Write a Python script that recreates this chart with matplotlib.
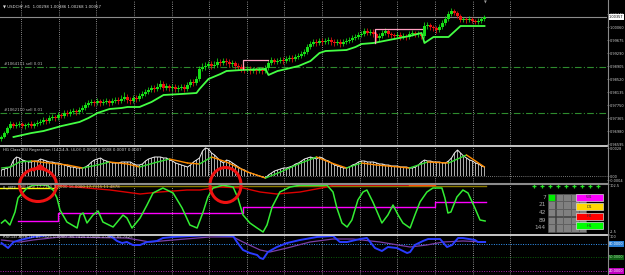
import numpy as np
import matplotlib
matplotlib.use('Agg')
import matplotlib.pyplot as plt
import matplotlib.transforms as mtrans
from matplotlib.patches import Ellipse, Rectangle
from matplotlib.lines import Line2D

# ---------------- data ----------------
# main window, USDCHF H1: close of each bar (open = previous close)
first_open = 0.96746
closes = [
    0.96805, 0.96923, 0.97071, 0.97190, 0.97130, 0.97160, 0.97190, 0.97130, 0.97160, 0.97190,
    0.97130, 0.97190, 0.97219, 0.97249, 0.97308, 0.97278, 0.97367, 0.97397, 0.97367, 0.97456,
    0.97426, 0.97515, 0.97486, 0.97545, 0.97574, 0.97545, 0.97604, 0.97663, 0.97752, 0.97811,
    0.97841, 0.97811, 0.97870, 0.97811, 0.97841, 0.97870, 0.97811, 0.97870, 0.97900, 0.97870,
    0.97930, 0.97989, 0.97900, 0.97870, 0.97959, 0.97930, 0.98018, 0.98078, 0.98137, 0.98196,
    0.98255, 0.98226, 0.98285, 0.98374, 0.98255, 0.98314, 0.98255, 0.98285, 0.98226, 0.98255,
    0.98285, 0.98226, 0.98344, 0.98433, 0.98403, 0.98522, 0.98818, 0.98877, 0.98906, 0.98966,
    0.98906, 0.98936, 0.99025, 0.98995, 0.99054, 0.99025, 0.98966, 0.98995, 0.98906, 0.98877,
    0.98818, 0.98788, 0.98818, 0.98758, 0.98788, 0.98758, 0.98788, 0.98758, 0.98847, 0.98995,
    0.99084, 0.99025, 0.99054, 0.99084, 0.99054, 0.99113, 0.99143, 0.99113, 0.99173, 0.99202,
    0.99262, 0.99321, 0.99469, 0.99558, 0.99617, 0.99587, 0.99646, 0.99617, 0.99646, 0.99676,
    0.99617, 0.99587, 0.99617, 0.99558, 0.99617, 0.99646, 0.99676, 0.99735, 0.99765, 0.99824,
    0.99854, 0.99942, 0.99883, 0.99913, 0.99854, 0.99735, 0.99794, 0.99883, 0.99942, 0.99854,
    0.99824, 0.99794, 0.99824, 0.99765, 0.99794, 0.99765, 0.99854, 0.99883, 0.99854, 0.99854,
    0.99794, 1.00090, 1.00120, 1.00061, 1.00031, 0.99972, 1.00061, 1.00179, 1.00298, 1.00446,
    1.00534, 1.00475, 1.00386, 1.00268, 1.00298, 1.00268, 1.00298, 1.00238, 1.00209, 1.00238,
    1.00298, 1.00357,
]
highs = [
    0.96864, 0.96982, 0.97130, 0.97278, 0.97249, 0.97249, 0.97278, 0.97249, 0.97219, 0.97249,
    0.97278, 0.97249, 0.97308, 0.97338, 0.97397, 0.97367, 0.97456, 0.97486, 0.97456, 0.97545,
    0.97515, 0.97604, 0.97604, 0.97634, 0.97663, 0.97634, 0.97693, 0.97752, 0.97841, 0.97900,
    0.97930, 0.97900, 0.97959, 0.97930, 0.97930, 0.97959, 0.97930, 0.97959, 0.97989, 0.97989,
    0.98048, 0.98137, 0.98078, 0.97989, 0.98048, 0.98048, 0.98107, 0.98166, 0.98226, 0.98285,
    0.98344, 0.98344, 0.98403, 0.98492, 0.98462, 0.98403, 0.98374, 0.98374, 0.98374, 0.98344,
    0.98374, 0.98374, 0.98433, 0.98522, 0.98522, 0.98610, 0.98906, 0.98995, 0.99025, 0.99054,
    0.99054, 0.99054, 0.99143, 0.99114, 0.99143, 0.99143, 0.99114, 0.99084, 0.99054, 0.98995,
    0.98966, 0.98906, 0.98906, 0.98906, 0.98877, 0.98877, 0.98877, 0.98877, 0.98936, 0.99084,
    0.99173, 0.99143, 0.99143, 0.99173, 0.99173, 0.99202, 0.99232, 0.99232, 0.99262, 0.99291,
    0.99350, 0.99410, 0.99558, 0.99646, 0.99706, 0.99706, 0.99735, 0.99735, 0.99735, 0.99765,
    0.99765, 0.99706, 0.99706, 0.99706, 0.99706, 0.99735, 0.99765, 0.99824, 0.99854, 0.99913,
    0.99942, 1.00031, 1.00031, 1.00002, 1.00002, 0.99913, 0.99883, 0.99972, 1.00031, 1.00002,
    0.99913, 0.99883, 0.99913, 0.99913, 0.99883, 0.99854, 0.99942, 0.99972, 0.99942, 0.99942,
    0.99913, 1.00209, 1.00209, 1.00179, 1.00120, 1.00090, 1.00150, 1.00268, 1.00386, 1.00534,
    1.00623, 1.00594, 1.00534, 1.00446, 1.00357, 1.00357, 1.00386, 1.00357, 1.00298, 1.00327,
    1.00357, 1.00416,
]
lows = [
    0.96686, 0.96775, 0.96894, 0.97042, 0.97071, 0.97071, 0.97101, 0.97071, 0.97042, 0.97101,
    0.97071, 0.97071, 0.97130, 0.97160, 0.97190, 0.97190, 0.97219, 0.97308, 0.97278, 0.97308,
    0.97367, 0.97367, 0.97426, 0.97426, 0.97486, 0.97456, 0.97486, 0.97545, 0.97604, 0.97693,
    0.97752, 0.97722, 0.97752, 0.97722, 0.97752, 0.97782, 0.97722, 0.97752, 0.97811, 0.97782,
    0.97811, 0.97870, 0.97811, 0.97782, 0.97811, 0.97841, 0.97870, 0.97959, 0.98018, 0.98078,
    0.98137, 0.98137, 0.98166, 0.98226, 0.98166, 0.98196, 0.98166, 0.98166, 0.98137, 0.98137,
    0.98196, 0.98137, 0.98166, 0.98285, 0.98314, 0.98344, 0.98462, 0.98758, 0.98788, 0.98847,
    0.98818, 0.98847, 0.98877, 0.98906, 0.98936, 0.98936, 0.98877, 0.98877, 0.98818, 0.98788,
    0.98729, 0.98699, 0.98729, 0.98670, 0.98699, 0.98670, 0.98699, 0.98670, 0.98699, 0.98788,
    0.98936, 0.98966, 0.98966, 0.98995, 0.98966, 0.98995, 0.99054, 0.99025, 0.99054, 0.99114,
    0.99143, 0.99202, 0.99262, 0.99410, 0.99498, 0.99498, 0.99528, 0.99528, 0.99558, 0.99558,
    0.99528, 0.99498, 0.99528, 0.99469, 0.99498, 0.99558, 0.99587, 0.99617, 0.99676, 0.99706,
    0.99765, 0.99794, 0.99824, 0.99824, 0.99765, 0.99617, 0.99646, 0.99735, 0.99824, 0.99765,
    0.99735, 0.99706, 0.99735, 0.99676, 0.99706, 0.99676, 0.99706, 0.99794, 0.99765, 0.99765,
    0.99706, 0.99735, 1.00002, 0.99972, 0.99942, 0.99883, 0.99913, 1.00002, 1.00120, 1.00238,
    1.00386, 1.00416, 1.00327, 1.00209, 1.00209, 1.00179, 1.00209, 1.00179, 1.00150, 1.00150,
    1.00179, 1.00238,
]

# green trailing line under price
trail_x = [4, 10, 14, 20, 26, 29, 32, 36, 40, 42, 46, 50, 54, 60, 65, 66, 69, 73, 75, 80,
           88, 89, 92, 95, 99, 103, 106, 108, 115, 118, 120, 124, 136, 140, 141, 144, 149, 153, 161]
trail_y = [0.96805, 0.96923, 0.96982, 0.97130, 0.97249, 0.97367, 0.97515, 0.97634, 0.97663, 0.97693,
           0.97693, 0.97841, 0.98048, 0.98078, 0.98107, 0.98226, 0.98522, 0.98670, 0.98758, 0.98788,
           0.98818, 0.98640, 0.98758, 0.98818, 0.98906, 0.99054, 0.99291, 0.99350, 0.99380, 0.99469,
           0.99558, 0.99587, 0.99794, 0.99883, 0.99587, 0.99765, 0.99765, 1.00090, 1.00090]

# pink range boxes
box1_x = [80.5, 80.5, 88.8]
box1_y = [0.98818, 0.99084, 0.99084]
box2_x = [124.5, 124.5, 140.2]
box2_y = [0.99587, 1.00002, 1.00002]

bid = 1.00357
order_levels = [0.98877, 0.97515]
order_labels = ['#1064111 sell 0.01', '#1062110 sell 0.01']
main_ticks = [0.96595, 0.96980, 0.97365, 0.97750, 0.98135, 0.98520,
              0.98905, 0.99290, 0.99675, 1.00060, 1.00445]

# window 2: HG Class RSI Regression histogram + signal
hist = [
    0.0006, 0.0007, 0.0008, 0.0009, 0.0016, 0.0019, 0.0018, 0.0016, 0.0015, 0.0014,
    0.0014, 0.0015, 0.0015, 0.0017, 0.0016, 0.0015, 0.0014, 0.0014, 0.0013, 0.0013,
    0.0012, 0.0011, 0.0010, 0.0009, 0.0009, 0.0008, 0.0008, 0.0008, 0.0009, 0.0011,
    0.0014, 0.0016, 0.0017, 0.0018, 0.0016, 0.0015, 0.0014, 0.0013, 0.0013, 0.0013,
    0.0014, 0.0014, 0.0014, 0.0014, 0.0012, 0.0011, 0.0011, 0.0012, 0.0015, 0.0017,
    0.0018, 0.0019, 0.0019, 0.0019, 0.0018, 0.0018, 0.0016, 0.0015, 0.0013, 0.0012,
    0.0011, 0.0010, 0.0009, 0.0011, 0.0014, 0.0016, 0.0018, 0.0025, 0.0028, 0.0027,
    0.0023, 0.0021, 0.0018, 0.0015, 0.0013, 0.0016, 0.0015, 0.0013, 0.0011, 0.0009,
    0.0007, 0.0006, 0.0004, 0.0003, 0.0002, 0.0001, 0.0000, -0.0001, -0.0002, 0.0001,
    0.0003, 0.0005, 0.0006, 0.0007, 0.0008, 0.0008, 0.0009, 0.0010, 0.0012, 0.0013,
    0.0015, 0.0017, 0.0018, 0.0019, 0.0018, 0.0017, 0.0019, 0.0018, 0.0016, 0.0015,
    0.0013, 0.0011, 0.0010, 0.0009, 0.0008, 0.0008, 0.0009, 0.0011, 0.0012, 0.0014,
    0.0015, 0.0015, 0.0014, 0.0014, 0.0014, 0.0013, 0.0012, 0.0012, 0.0011, 0.0011,
    0.0010, 0.0010, 0.0010, 0.0009, 0.0009, 0.0009, 0.0008, 0.0008, 0.0009, 0.0011,
    0.0014, 0.0016, 0.0015, 0.0015, 0.0014, 0.0014, 0.0014, 0.0013, 0.0013, 0.0015,
    0.0018, 0.0023, 0.0026, 0.0023, 0.0020, 0.0018, 0.0016, 0.0015, 0.0013, 0.0012,
    0.0010, 0.0009,
]
sig_x = [0, 3, 6, 10, 16, 22, 27, 32, 36, 42, 46, 52, 56, 62, 66, 70, 75, 82, 88, 93,
         99, 105, 110, 115, 120, 125, 136, 142, 149, 155, 161]
sig_y = [0.0008, 0.0009, 0.0014, 0.0015, 0.0013, 0.0011, 0.0008, 0.0011, 0.0014, 0.0012,
         0.0009, 0.0014, 0.0017, 0.0013, 0.0012, 0.0019, 0.0014, 0.0004, -0.0002, 0.0004,
         0.0012, 0.0019, 0.0013, 0.0008, 0.0013, 0.0011, 0.0008, 0.0014, 0.0013, 0.0021, 0.0009]

# window 3: LL_MTF oscillator
osc_x = [0, 1.2, 2.8, 4.5, 5.5, 8.5, 10.5, 15.2, 17.2, 18.5, 19.5, 21.8, 25.2, 26.2, 27.2,
         28.5, 30.5, 32.2, 33.8, 37.2, 40.5, 41.8, 43.5, 46.2, 48.5, 50.5, 53.8, 57.2, 60.2,
         62.8, 65.2, 67.2, 68.8, 70.5, 73.8, 77.2, 78.8, 80.5, 82.8, 85.2, 87.2, 88.5, 90.2,
         92.8, 96.2, 99.5, 108.5, 110.5, 111.8, 113.5, 115.2, 116.8, 118.8, 120.5, 121.8,
         123.8, 126.8, 128.8, 130.5, 132.2, 133.8, 136.2, 137.8, 139.5, 141.8, 143.8, 146.8,
         147.8, 148.8, 149.8, 151.8, 153.8, 155.5, 157.8, 159.5, 161.2]
osc_y = [20.6, 26.9, 16.4, 43.7, 73.1, 94.1, 100, 100, 89.9, 73.1, 47.9, 22.7, 10.1, 37.4, 41.6,
         20.6, 37.4, 45.8, 22.7, 12.2, 37.4, 31.1, 10.1, 31.1, 58.4, 83.6, 94.1, 83.6, 52.1,
         16.4, 10.1, 43.7, 75.2, 94.1, 100, 96.2, 73.1, 37.4, 20.6, 10.1, 1.7, 16.4, 54.2,
         85.7, 96.2, 100, 100, 85.7, 52.1, 20.6, 12.2, 26.9, 68.9, 85.7, 89.9,
         64.7, 20.6, 37.4, 58.4, 37.4, 20.6, 10.1, 37.4, 64.7, 85.7, 94.1, 94.1,
         73.1, 41.6, 43.7, 75.2, 89.9, 83.6, 52.1, 26.9, 24.8]
mag_x = [5.5, 18.8, 80.5, 144.5, 161.5]
mag_y = [24.8, 41.6, 54.2, 64.7, 64.7]
red_x = [17.8, 36.2, 46.2, 52.8, 61.8, 66.2, 72.8, 80.5, 86.2, 91.8, 99.5, 108.5, 110.5, 136]
red_y = [100, 89.9, 81.5, 85.7, 89.9, 89.9, 96.2, 94.1, 85.7, 81.5, 85.7, 96.2, 100, 100]
periods = ['7', '21', '42', '89', '144']
tf_labels = ['W1', 'D1', 'H4', 'H1']
tf_colors = ['#ff00ff', '#ffd700', '#ff0000', '#00ff00']

# window 4: RSI(14) and its signal
rsi_x = [0, 2.2, 4, 6.2, 10.5, 16, 35.2, 36.8, 38.5, 40.2, 41.8, 43.8, 46.2, 48.5, 51.8, 53.8,
         57.2, 69.5, 77.2, 78.5, 80.5, 82.8, 85.2, 86.2, 87.2, 88.8, 91.8, 95.2, 99.5, 105.2,
         110.5, 112.8, 115.2, 119.5, 121.8, 124.5, 126.8, 128.8, 131.8, 135.2, 136.2, 137.8,
         140.5, 142.2, 146.2, 148.5, 150.2, 152.2, 153.8, 157.8, 158.8, 161.2]
rsi_y = [82.2, 71.1, 84.4, 88.9, 95.6, 100, 100, 95.6, 86.7, 82.2, 84.4, 77.8, 77.8, 84.4, 86.7, 93.3,
         95.6, 100, 97.8, 84.4, 66.7, 60.0, 55.6, 48.9, 46.7, 62.2, 73.3, 82.2, 88.9, 95.6,
         97.8, 84.4, 84.4, 91.1, 93.3, 71.1, 64.4, 73.3, 71.1, 60.0, 62.2, 77.8,
         86.7, 91.1, 91.1, 73.3, 77.8, 93.3, 93.3, 88.9, 84.4, 84.4]
rsig_x = [0, 6.2, 10.5, 19.5, 41.8, 49.5, 57.2, 69.5, 77.2, 80.5, 86.2, 89.5, 95.2, 102.8,
          110.5, 117.2, 126.2, 136.2, 141.8, 147.2, 153.8, 161.2]
rsig_y = [88.9, 84.4, 88.9, 95.6, 93.3, 84.4, 88.9, 95.6, 95.6, 84.4, 66.7, 62.2, 71.1, 84.4,
          91.1, 91.1, 84.4, 73.3, 77.8, 84.4, 86.7, 84.4]
rsi_levels = [80, 50, 20]

# ---------------- figure ----------------
W, H = 625, 275
fig = plt.figure(figsize=(W / 100, H / 100), dpi=100, facecolor='black')


def fx(px):
    return px / W


def fy(py):
    return 1 - py / H


AX_R = 607
XLIM = (-0.5, (AX_R - 1.5) / 3)
ax1 = fig.add_axes([0, fy(145), fx(AX_R), 145 / H])
ax2 = fig.add_axes([0, fy(183), fx(AX_R), 37 / H])
ax3 = fig.add_axes([0, fy(234), fx(AX_R), 50 / H])
ax4 = fig.add_axes([0, 0, fx(AX_R), 40 / H])

grid_idx = (21.3 + 37.6 * np.arange(14) - 1.5) / 3
for ax in (ax1, ax2, ax3, ax4):
    ax.set_facecolor('black')
    ax.set_xlim(*XLIM)
    ax.set_xticks([])
    for s in ax.spines.values():
        s.set_visible(False)
    for g in grid_idx:
        ax.axvline(g, color='#b8b8b8', lw=0.6, ls=(0, (1, 1.6)), zorder=0)
    ax.yaxis.tick_right()
    ax.tick_params(axis='y', color='#909090', labelcolor='#d0d0d0', labelsize=2.5,
                   length=1.6, width=0.5, pad=0.6)

lab_font = dict(fontsize=2.8, va='center')
box_font = 2.5

# ---- main window
x = np.arange(len(closes))
opens = np.array([first_open] + closes[:-1])
cl = np.array(closes)
up = cl >= opens
candle_col = np.where(up, '#16e016', '#ee1111')
ax1.axhline(bid, color='#8c8c8c', lw=0.8, zorder=1)
for lvl in order_levels:
    ax1.axhline(lvl, color='#2e8b2e', lw=0.8, ls=(0, (6, 2, 1, 2)), zorder=1)
ax1.vlines(x, lows, highs, colors=candle_col, lw=0.55, zorder=3)
ax1.bar(x, np.maximum(np.abs(cl - opens), 0.0004), bottom=np.minimum(cl, opens), width=0.75,
        color=candle_col, zorder=3)
ax1.plot(trail_x, trail_y, color='#44ff44', lw=1.3, zorder=4)
ax1.plot(box1_x, box1_y, color='#ff9fbf', lw=0.9, zorder=4)
ax1.plot(box2_x, box2_y, color='#ff9fbf', lw=0.9, zorder=4)
ax1.set_ylim(0.96568, 1.00860)
ax1.set_yticks(main_ticks)
ax1.set_yticklabels([f'{v:.5f}' for v in main_ticks])
blend1 = mtrans.blended_transform_factory(ax1.transAxes, ax1.transData)
ax1.text(1.003, bid, f'{bid:.5f}', transform=blend1, fontsize=box_font, color='black', va='center',
         bbox=dict(boxstyle='square,pad=0.15', fc='white', ec='none'), zorder=6)
fig.text(fx(3), fy(6), '\u25bc USDCHF,H1  1.00298 1.00386 1.00268 1.00357', color='#e0e0e0', **lab_font)
for lvl, txt in zip(order_levels, order_labels):
    ax1.text(0.007, lvl + 0.0009, txt, transform=blend1, color='#bdbdbd', **lab_font)
fig.text(fx(485), fy(3), '\u25bc', color='#9a9a9a', fontsize=2.6, ha='center', va='center')

# ---- window 2
ax2.axhline(0, color='#9a9a9a', lw=0.6, ls=(0, (1, 1.5)), zorder=1)
ax2.bar(x, hist, width=0.38, color='#a8a8a8', zorder=2)
ax2.plot(x, hist, color='#f0f0f0', lw=0.7, zorder=3)
for i in range(len(sig_x) - 1):
    c = '#33dd33' if sig_y[i + 1] > sig_y[i] else '#ff8c00'
    ax2.plot(sig_x[i:i + 2], sig_y[i:i + 2], color=c, lw=1.0, zorder=4, solid_capstyle='round')
ax2.set_ylim(-0.0007, 0.0030)
ax2.set_yticks([0.0028, 0.0, -0.0004])
ax2.set_yticklabels(['0.0028', '0.00', '-0.0004'])
fig.text(fx(3), fy(150), 'HG Class RSI Regression (14,14,9, (4,0)) 0.0008 0.0008 0.0007 0.0007',
         color='#d8d8d8', **lab_font)

# ---- window 3
ax3.plot([-0.5, 18.5], [94.1, 94.1], color='#ffff00', lw=1.0, zorder=2)
ax3.plot([18.5, 161.5], [98.3, 98.3], color='#8a7a00', lw=1.0, zorder=2)
ax3.plot(red_x, red_y, color='#dd0000', lw=1.0, zorder=3)
ax3.plot([136, 144.5], [100, 100], color='#ff4500', lw=1.0, zorder=3)
ax3.plot(mag_x, mag_y, color='#ff00ff', lw=1.0, drawstyle='steps-post', zorder=3)
ax3.plot(osc_x, osc_y, color='#33ee33', lw=1.1, zorder=4)
ax3.set_ylim(-2.5, 102.5)
ax3.set_yticks([102.5, -2.5])
ax3.set_yticklabels(['102.5', '-2.5'])
ax3.get_yticklabels()[0].set_va('top')
ax3.get_yticklabels()[1].set_va('bottom')
fig.text(fx(3), fy(187), 'LL_MTF', color='#d8d8d8', **lab_font)
fig.text(fx(20), fy(187), 'OB Line 17.7315 0.0000 16.0000 17.7315 11.4878', color='#e8b0a0', **lab_font)

# trend table
for r in range(5):
    for c in range(5):
        fc = '#00ee00' if (r == 0 and c == 0) else '#808080'
        fig.add_artist(Rectangle((fx(547.7 + c * 7.8), fy(193.3 + (r + 1) * 7.7)), fx(7.5), 7.4 / H,
                                 transform=fig.transFigure, fc=fc, ec='#5c5c5c', lw=0.4))
    fig.text(fx(546), fy(197.3 + r * 7.6), periods[r], color='#a8a8a8', fontsize=4.2,
             ha='right', va='center')
for k, (lbl, col) in enumerate(zip(tf_labels, tf_colors)):
    top = 193.7 + k * 9.5
    fig.add_artist(Rectangle((fx(576), fy(top + 7)), fx(27), 7 / H, transform=fig.transFigure,
                             fc=col, ec='#d8d8d8', lw=0.5))
    fig.text(fx(589.5), fy(top + 3.5), lbl, color='#303030', fontsize=3.0, ha='center', va='center')
for px in [534.3, 542.3, 550.3, 558.3, 566.3, 574.3, 582, 590, 597.7]:
    fig.add_artist(Line2D([fx(px)], [fy(186)], marker='+', color='#22dd22', ms=3, mew=0.9,
                          transform=fig.transFigure))

# ---- window 4
lvl_style = [('#3399ff', '#2a7fd4', 'white'), ('#0b5d0b', '#0d5c12', '#a8e8a8'), ('#b020b0', '#c000c0', 'white')]
blend4 = mtrans.blended_transform_factory(ax4.transAxes, ax4.transData)
for lvl, (lc, bc, tc) in zip(rsi_levels, lvl_style):
    ax4.axhline(lvl, color=lc, lw=0.7, ls=(0, (1, 1.5)), zorder=1)
    ax4.text(1.003, lvl, f'{lvl:.4f}', transform=blend4, fontsize=box_font, color=tc, va='center',
             bbox=dict(boxstyle='square,pad=0.15', fc=bc, ec='none'))
ax4.plot(rsig_x, rsig_y, color='#7a3fa8', lw=0.9, zorder=2)
ax4.plot(rsi_x, rsi_y, color='#2a3cff', lw=1.4, zorder=3)
ax4.set_ylim(11.1, 100)
ax4.set_yticks([100])
ax4.set_yticklabels(['100'])
ax4.get_yticklabels()[0].set_va('top')
fig.text(fx(3), fy(237.5), 'RSI(14) Alert (1) 85.7425 0.0000 -85.7425 0.0000 0.0000 85.7425',
         color='#d8d8d8', **lab_font)

# window separators and price scale border
fig.add_artist(Line2D([0, fx(AX_R)], [fy(145.5)] * 2, color='#d4d4d4', lw=1.3))
fig.add_artist(Line2D([0, fx(AX_R)], [fy(183.5)] * 2, color='#8c8c8c', lw=1.5))
fig.add_artist(Line2D([0, fx(AX_R)], [fy(234.5)] * 2, color='#d8d8d8', lw=1.3))
fig.add_artist(Line2D([fx(AX_R + 0.5)] * 2, [0, 1], color='#8a8a8a', lw=0.8))

# hand-drawn red circles
fig.add_artist(Ellipse((fx(38), fy(185)), fx(37), 33 / H, transform=fig.transFigure,
                       fill=False, ec='#ee1111', lw=2.2))
fig.add_artist(Line2D([fx(34), fx(40), fx(46)], [fy(170), fy(165.5), fy(170)], color='#ee1111',
                      lw=2.0, transform=fig.transFigure))
fig.add_artist(Ellipse((fx(225.5), fy(185)), fx(31), 35 / H, transform=fig.transFigure,
                       fill=False, ec='#ee1111', lw=2.2))

fig.savefig('out.png', dpi=100, facecolor='black')
